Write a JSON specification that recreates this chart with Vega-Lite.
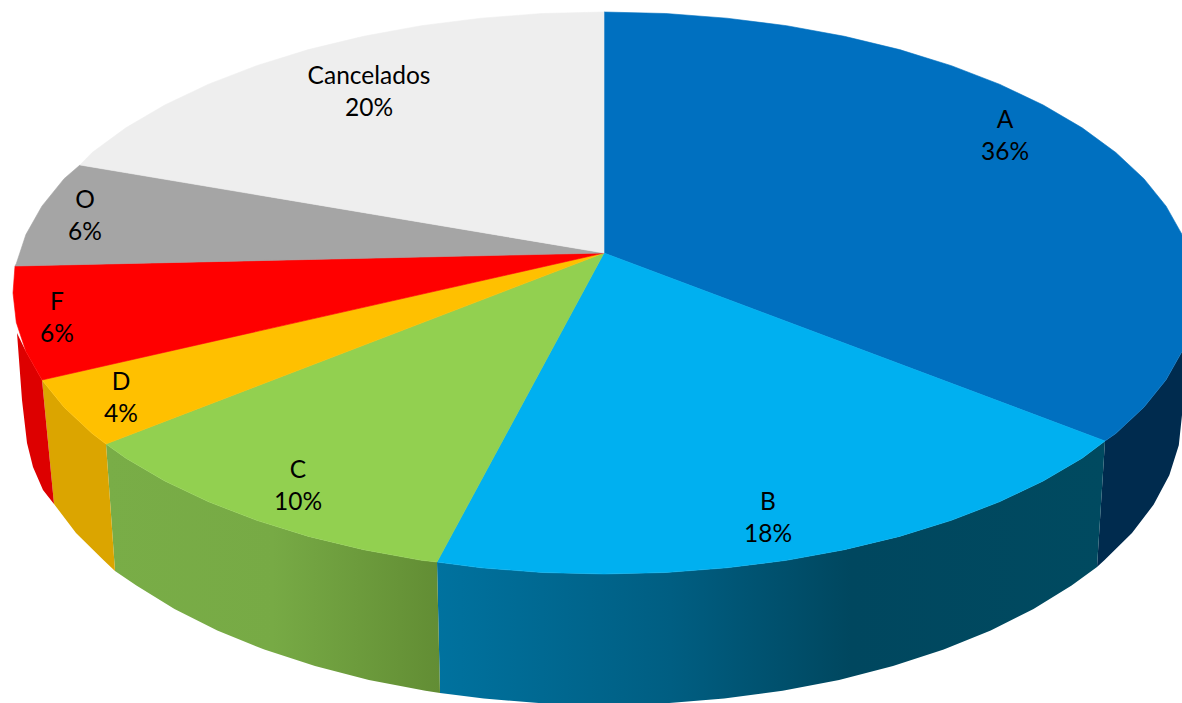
{"$schema":"https://vega.github.io/schema/vega-lite/v6.json","width":1182,"height":703,"padding":0,"autosize":{"type":"none"},"background":"white","config":{"view":{"stroke":null}},
"datasets":{
"tops":[
{"s":"A","v":0,"x":604,"y":253},{"s":"A","v":1,"x":604,"y":12},{"s":"A","v":2,"x":665.8,"y":13.5},{"s":"A","v":3,"x":726.9,"y":18.2},{"s":"A","v":4,"x":786.6,"y":25.7},{"s":"A","v":5,"x":844.4,"y":36.3},{"s":"A","v":6,"x":899.5,"y":49.6},{"s":"A","v":7,"x":951.4,"y":65.7},{"s":"A","v":8,"x":999.4,"y":84.2},{"s":"A","v":9,"x":1043.2,"y":105},{"s":"A","v":10,"x":1082.1,"y":127.8},{"s":"A","v":11,"x":1115.8,"y":152.5},{"s":"A","v":12,"x":1143.9,"y":178.7},{"s":"A","v":13,"x":1166.1,"y":206.2},{"s":"A","v":14,"x":1182.1,"y":234.6},{"s":"A","v":15,"x":1191.7,"y":263.6},{"s":"A","v":16,"x":1195,"y":293},{"s":"A","v":17,"x":1191.7,"y":322.4},{"s":"A","v":18,"x":1182.1,"y":351.4},{"s":"A","v":19,"x":1166.1,"y":379.8},{"s":"A","v":20,"x":1143.9,"y":407.3},{"s":"A","v":21,"x":1115.8,"y":433.5},{"s":"A","v":22,"x":1105,"y":441},{"s":"A","v":23,"x":604,"y":253},
{"s":"B","v":0,"x":604,"y":253},{"s":"B","v":1,"x":1105,"y":441},{"s":"B","v":2,"x":1082.1,"y":458.2},{"s":"B","v":3,"x":1043.2,"y":481},{"s":"B","v":4,"x":999.4,"y":501.8},{"s":"B","v":5,"x":951.4,"y":520.3},{"s":"B","v":6,"x":899.5,"y":536.4},{"s":"B","v":7,"x":844.4,"y":549.7},{"s":"B","v":8,"x":786.6,"y":560.3},{"s":"B","v":9,"x":726.9,"y":567.8},{"s":"B","v":10,"x":665.8,"y":572.5},{"s":"B","v":11,"x":604,"y":574},{"s":"B","v":12,"x":542.2,"y":572.5},{"s":"B","v":13,"x":481.1,"y":567.8},{"s":"B","v":14,"x":437,"y":562},{"s":"B","v":15,"x":604,"y":253},
{"s":"C","v":0,"x":604,"y":253},{"s":"C","v":1,"x":437,"y":562},{"s":"C","v":2,"x":421.4,"y":560.3},{"s":"C","v":3,"x":363.6,"y":549.7},{"s":"C","v":4,"x":308.5,"y":536.4},{"s":"C","v":5,"x":256.6,"y":520.3},{"s":"C","v":6,"x":208.6,"y":501.8},{"s":"C","v":7,"x":164.8,"y":481},{"s":"C","v":8,"x":125.9,"y":458.2},{"s":"C","v":9,"x":106,"y":444},{"s":"C","v":10,"x":604,"y":253},
{"s":"D","v":0,"x":604,"y":253},{"s":"D","v":1,"x":106,"y":444},{"s":"D","v":2,"x":92.2,"y":433.5},{"s":"D","v":3,"x":64.1,"y":407.3},{"s":"D","v":4,"x":42,"y":380},{"s":"D","v":5,"x":604,"y":253},
{"s":"F","v":0,"x":604,"y":253},{"s":"F","v":1,"x":42,"y":380},{"s":"F","v":2,"x":25.9,"y":351.4},{"s":"F","v":3,"x":16.3,"y":322.4},{"s":"F","v":4,"x":13,"y":293},{"s":"F","v":5,"x":15,"y":266},{"s":"F","v":6,"x":604,"y":253},
{"s":"O","v":0,"x":604,"y":253},{"s":"O","v":1,"x":15,"y":266},{"s":"O","v":2,"x":16.3,"y":263.6},{"s":"O","v":3,"x":25.9,"y":234.6},{"s":"O","v":4,"x":41.9,"y":206.2},{"s":"O","v":5,"x":64.1,"y":178.7},{"s":"O","v":6,"x":80,"y":165},{"s":"O","v":7,"x":604,"y":253},
{"s":"Cancelados","v":0,"x":604,"y":253},{"s":"Cancelados","v":1,"x":80,"y":165},{"s":"Cancelados","v":2,"x":92.2,"y":152.5},{"s":"Cancelados","v":3,"x":125.9,"y":127.8},{"s":"Cancelados","v":4,"x":164.8,"y":105},{"s":"Cancelados","v":5,"x":208.6,"y":84.2},{"s":"Cancelados","v":6,"x":256.6,"y":65.7},{"s":"Cancelados","v":7,"x":308.5,"y":49.6},{"s":"Cancelados","v":8,"x":363.6,"y":36.3},{"s":"Cancelados","v":9,"x":421.4,"y":25.7},{"s":"Cancelados","v":10,"x":481.1,"y":18.2},{"s":"Cancelados","v":11,"x":542.2,"y":13.5},{"s":"Cancelados","v":12,"x":604,"y":12},{"s":"Cancelados","v":13,"x":604,"y":253}
],
"sides":[
{"s":"A","v":0,"x":1182.1,"y":351.4},{"s":"A","v":1,"x":1166.1,"y":379.8},{"s":"A","v":2,"x":1143.9,"y":407.3},{"s":"A","v":3,"x":1115.8,"y":433.5},{"s":"A","v":4,"x":1105,"y":441},{"s":"A","v":5,"x":1097,"y":567},{"s":"A","v":6,"x":1104.6,"y":560},{"s":"A","v":7,"x":1132,"y":532.9},{"s":"A","v":8,"x":1153.7,"y":504.6},{"s":"A","v":9,"x":1169.3,"y":475.3},{"s":"A","v":10,"x":1178.8,"y":445.3},{"s":"A","v":11,"x":1182,"y":415},
{"s":"B","v":0,"x":1105,"y":441},{"s":"B","v":1,"x":1082.1,"y":458.2},{"s":"B","v":2,"x":1043.2,"y":481},{"s":"B","v":3,"x":999.4,"y":501.8},{"s":"B","v":4,"x":951.4,"y":520.3},{"s":"B","v":5,"x":899.5,"y":536.4},{"s":"B","v":6,"x":844.4,"y":549.7},{"s":"B","v":7,"x":786.6,"y":560.3},{"s":"B","v":8,"x":726.9,"y":567.8},{"s":"B","v":9,"x":665.8,"y":572.5},{"s":"B","v":10,"x":604,"y":574},{"s":"B","v":11,"x":542.2,"y":572.5},{"s":"B","v":12,"x":481.1,"y":567.8},{"s":"B","v":13,"x":437,"y":562},{"s":"B","v":14,"x":440,"y":693},{"s":"B","v":15,"x":483.8,"y":698.6},{"s":"B","v":16,"x":543.6,"y":703.4},{"s":"B","v":17,"x":604,"y":705},{"s":"B","v":18,"x":664.4,"y":703.4},{"s":"B","v":19,"x":724.2,"y":698.6},{"s":"B","v":20,"x":782.6,"y":690.8},{"s":"B","v":21,"x":839.1,"y":679.9},{"s":"B","v":22,"x":893,"y":666.1},{"s":"B","v":23,"x":943.7,"y":649.6},{"s":"B","v":24,"x":990.7,"y":630.5},{"s":"B","v":25,"x":1033.5,"y":609},{"s":"B","v":26,"x":1071.6,"y":585.5},{"s":"B","v":27,"x":1097,"y":567},
{"s":"C","v":0,"x":437,"y":562},{"s":"C","v":1,"x":421.4,"y":560.3},{"s":"C","v":2,"x":363.6,"y":549.7},{"s":"C","v":3,"x":308.5,"y":536.4},{"s":"C","v":4,"x":256.6,"y":520.3},{"s":"C","v":5,"x":208.6,"y":501.8},{"s":"C","v":6,"x":164.8,"y":481},{"s":"C","v":7,"x":125.9,"y":458.2},{"s":"C","v":8,"x":106,"y":444},{"s":"C","v":9,"x":115,"y":571},{"s":"C","v":10,"x":136.4,"y":585.5},{"s":"C","v":11,"x":174.5,"y":609},{"s":"C","v":12,"x":217.3,"y":630.5},{"s":"C","v":13,"x":264.3,"y":649.6},{"s":"C","v":14,"x":315,"y":666.1},{"s":"C","v":15,"x":368.9,"y":679.9},{"s":"C","v":16,"x":425.4,"y":690.8},{"s":"C","v":17,"x":440,"y":693},
{"s":"D","v":0,"x":106,"y":444},{"s":"D","v":1,"x":92.2,"y":433.5},{"s":"D","v":2,"x":64.1,"y":407.3},{"s":"D","v":3,"x":42,"y":380},{"s":"D","v":4,"x":54,"y":504},{"s":"D","v":5,"x":76,"y":532.9},{"s":"D","v":6,"x":103.4,"y":560},{"s":"D","v":7,"x":115,"y":571},
{"s":"F","v":0,"x":42,"y":380},{"s":"F","v":1,"x":25.9,"y":351.4},{"s":"F","v":2,"x":17,"y":333},{"s":"F","v":3,"x":22,"y":400},{"s":"F","v":4,"x":27,"y":443},{"s":"F","v":5,"x":33,"y":467},{"s":"F","v":6,"x":43,"y":490},{"s":"F","v":7,"x":54,"y":504}
],
"labels":[
{"s":"A","label":"A\n36%","x":1005,"y":121},{"s":"B","label":"B\n18%","x":768,"y":503},{"s":"C","label":"C\n10%","x":298,"y":471},{"s":"D","label":"D\n4%","x":121,"y":383},{"s":"F","label":"F\n6%","x":57,"y":303},{"s":"O","label":"O\n6%","x":85,"y":201},{"s":"Cancelados","label":"Cancelados\n20%","x":369,"y":77}
]},
"encoding":{
"x":{"field":"x","type":"quantitative","scale":{"domain":[0,1182],"nice":false,"zero":false},"axis":null},
"y":{"field":"y","type":"quantitative","scale":{"domain":[703,0],"nice":false,"zero":false},"axis":null}
},
"layer":[
{"data":{"name":"sides"},"transform":[{"filter":"datum.s==='A'"}],"mark":{"type":"line","strokeWidth":0,"fill":"#002b4e"},"encoding":{"order":{"field":"v","type":"quantitative"}}},
{"data":{"name":"sides"},"transform":[{"filter":"datum.s==='B'"}],"mark":{"type":"line","strokeWidth":0,"fill":{"gradient":"linear","x1":0,"y1":0,"x2":1,"y2":0,"stops":[{"offset":0,"color":"#00729f"},{"offset":0.35,"color":"#005e82"},{"offset":0.62,"color":"#00475f"},{"offset":1,"color":"#004a60"}]}},"encoding":{"order":{"field":"v","type":"quantitative"}}},
{"data":{"name":"sides"},"transform":[{"filter":"datum.s==='C'"}],"mark":{"type":"line","strokeWidth":0,"fill":{"gradient":"linear","x1":0,"y1":0,"x2":1,"y2":0,"stops":[{"offset":0,"color":"#79ad47"},{"offset":0.5,"color":"#77aa45"},{"offset":1,"color":"#628d34"}]}},"encoding":{"order":{"field":"v","type":"quantitative"}}},
{"data":{"name":"sides"},"transform":[{"filter":"datum.s==='D'"}],"mark":{"type":"line","strokeWidth":0,"fill":"#dba500"},"encoding":{"order":{"field":"v","type":"quantitative"}}},
{"data":{"name":"sides"},"transform":[{"filter":"datum.s==='F'"}],"mark":{"type":"line","strokeWidth":0,"fill":"#dd0000"},"encoding":{"order":{"field":"v","type":"quantitative"}}},
{"data":{"name":"tops"},"transform":[{"filter":"datum.s==='A'"}],"mark":{"type":"line","strokeWidth":0.6,"color":"#0070c0","fill":"#0070c0"},"encoding":{"order":{"field":"v","type":"quantitative"}}},
{"data":{"name":"tops"},"transform":[{"filter":"datum.s==='B'"}],"mark":{"type":"line","strokeWidth":0.6,"color":"#00b0f0","fill":"#00b0f0"},"encoding":{"order":{"field":"v","type":"quantitative"}}},
{"data":{"name":"tops"},"transform":[{"filter":"datum.s==='C'"}],"mark":{"type":"line","strokeWidth":0.6,"color":"#92d050","fill":"#92d050"},"encoding":{"order":{"field":"v","type":"quantitative"}}},
{"data":{"name":"tops"},"transform":[{"filter":"datum.s==='D'"}],"mark":{"type":"line","strokeWidth":0.6,"color":"#ffc000","fill":"#ffc000"},"encoding":{"order":{"field":"v","type":"quantitative"}}},
{"data":{"name":"tops"},"transform":[{"filter":"datum.s==='F'"}],"mark":{"type":"line","strokeWidth":0.6,"color":"#ff0000","fill":"#ff0000"},"encoding":{"order":{"field":"v","type":"quantitative"}}},
{"data":{"name":"tops"},"transform":[{"filter":"datum.s==='O'"}],"mark":{"type":"line","strokeWidth":0.6,"color":"#a5a5a5","fill":"#a5a5a5"},"encoding":{"order":{"field":"v","type":"quantitative"}}},
{"data":{"name":"tops"},"transform":[{"filter":"datum.s==='Cancelados'"}],"mark":{"type":"line","strokeWidth":0.6,"color":"#eeeeee","fill":"#eeeeee"},"encoding":{"order":{"field":"v","type":"quantitative"}}},
{"data":{"name":"labels"},"mark":{"type":"text","font":"Lato","fontSize":24.5,"color":"#000000","lineBreak":"\n","lineHeight":32,"align":"center","baseline":"middle"},"encoding":{"text":{"field":"label"}}}
]}
